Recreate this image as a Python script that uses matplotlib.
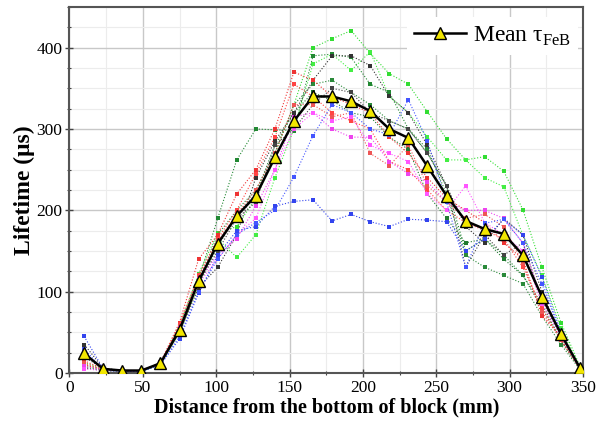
import matplotlib
matplotlib.use("Agg")
import matplotlib.pyplot as plt
from matplotlib.ticker import MultipleLocator

plt.rcParams['font.family'] = ['Liberation Serif', 'DejaVu Serif']
plt.rcParams['mathtext.fontset'] = 'custom'
plt.rcParams['mathtext.rm'] = 'Liberation Serif'
plt.rcParams['mathtext.bf'] = 'Liberation Serif:bold'

x = [10, 23, 36, 49, 62, 75, 88, 101, 114, 127, 140, 153, 166, 179, 192,
     205, 218, 231, 244, 257, 270, 283, 296, 309, 322, 335, 348]

mean_tau = [24, 5, 3, 3, 12, 53, 113, 159, 193, 218, 265, 310, 340, 340, 334,
            322, 300, 289, 254, 218, 187, 177, 171, 145, 94, 48, 6]

lime_a = [13, 4, 2, 2, 11, 58, 122, 172, 180, 215, 270, 330, 400, 411, 421,
          393, 368, 355, 321, 288, 262, 266, 248, 201, 130, 62, 8]
lime_b = [8, 3, 2, 2, 10, 50, 108, 165, 142, 170, 240, 300, 380, 392, 372,
          395, 340, 320, 290, 262, 262, 240, 229, 170, 120, 55, 6]
green_a = [10, 4, 2, 2, 12, 55, 115, 190, 262, 300, 299, 298, 390, 392, 388,
           355, 345, 300, 270, 230, 150, 165, 145, 120, 85, 40, 5]
green_b = [8, 3, 2, 2, 12, 52, 112, 170, 200, 225, 270, 330, 355, 360, 345,
           330, 310, 300, 275, 220, 145, 130, 120, 110, 70, 35, 4]
green_c = [6, 3, 2, 2, 11, 50, 110, 155, 195, 220, 280, 320, 345, 335, 320,
           315, 290, 275, 220, 190, 160, 165, 140, 120, 80, 40, 5]
black_a = [35, 6, 3, 3, 12, 50, 105, 130, 170, 240, 285, 320, 360, 390, 390,
           378, 340, 320, 280, 230, 180, 160, 190, 170, 100, 45, 5]
black_b = [20, 5, 3, 3, 12, 52, 110, 150, 190, 210, 280, 300, 330, 350, 345,
           320, 310, 300, 270, 230, 130, 170, 145, 160, 90, 45, 5]
red_a = [15, 5, 3, 3, 13, 62, 140, 170, 220, 250, 300, 370, 360, 340, 330,
         320, 290, 270, 240, 215, 200, 185, 160, 140, 70, 45, 5]
red_b = [10, 4, 3, 3, 12, 60, 120, 165, 200, 245, 290, 355, 340, 320, 310,
         300, 260, 250, 225, 200, 185, 175, 165, 130, 80, 40, 5]
red_c = [12, 4, 3, 3, 12, 58, 118, 162, 195, 225, 270, 330, 330, 315, 320,
         270, 255, 280, 230, 210, 190, 195, 180, 135, 75, 42, 5]
magenta_a = [8, 4, 3, 3, 12, 55, 115, 145, 165, 205, 250, 315, 320, 300, 290,
             290, 260, 245, 235, 210, 200, 200, 190, 160, 90, 50, 5]
magenta_b = [5, 3, 2, 2, 11, 52, 110, 140, 170, 190, 250, 300, 320, 310, 315,
             280, 270, 260, 220, 200, 230, 185, 170, 150, 85, 45, 5]
blue_a = [45, 5, 3, 2, 10, 42, 98, 145, 175, 180, 205, 211, 213, 187, 195,
          186, 180, 189, 188, 186, 150, 165, 189, 170, 118, 50, 5]
blue_b = [30, 3, 2, 2, 10, 45, 100, 140, 170, 185, 200, 241, 292, 330, 320,
          300, 293, 336, 285, 210, 130, 184, 189, 160, 110, 48, 5]

series = [
    (lime_a, '#33dd33'), (lime_b, '#44ee44'),
    (green_a, '#228833'), (green_b, '#2a8a3a'), (green_c, '#1f7a2f'),
    (black_a, '#333333'), (black_b, '#444444'),
    (red_a, '#ee3333'), (red_b, '#ff4444'), (red_c, '#ee5555'),
    (magenta_a, '#ee44ee'), (magenta_b, '#ff55ff'),
    (blue_a, '#3344ee'), (blue_b, '#4455ff'),
]

fig = plt.figure(figsize=(5.97, 4.30), dpi=100)
ax = fig.add_axes([0.1164, 0.1326, 0.8601, 0.8511])

for vals, c in series:
    ax.plot(x, vals, linestyle=':', color=c, linewidth=0.8,
            marker='s', markersize=2.2, markeredgewidth=0, zorder=2)

ax.plot(x, mean_tau, '-', color='black', linewidth=1.8, marker='^',
        markersize=8.5, markerfacecolor='#f2e600', markeredgecolor='black',
        markeredgewidth=1.0, zorder=5, label='Mean τ$_{\\mathrm{FeB}}$')

ax.set_xlim(0, 350)
ax.set_ylim(0, 450)
ax.xaxis.set_major_locator(MultipleLocator(50))
ax.xaxis.set_minor_locator(MultipleLocator(25))
ax.yaxis.set_major_locator(MultipleLocator(100))
ax.yaxis.set_minor_locator(MultipleLocator(25))

ax.grid(which='major', color='#c8c8c8', linewidth=1.0, zorder=0)
ax.grid(which='minor', color='#ececec', linewidth=0.8, zorder=0)
ax.set_axisbelow(True)

ax.tick_params(which='major', direction='inout', length=6, width=1,
               labelsize=12.5, color='#444444', pad=2)
ax.tick_params(which='minor', direction='inout', length=3, width=0.8,
               color='#444444')
for s in ax.spines.values():
    s.set_color('#555555')
    s.set_linewidth(1.5)

ax.set_xlabel('Distance from the bottom of block (mm)', fontsize=14.5,
              fontweight='bold', labelpad=1)
ax.set_ylabel('Lifetime (μs)', fontsize=17, fontweight='bold', labelpad=1)

leg = ax.legend(loc='upper right', bbox_to_anchor=(1.0, 0.985), fontsize=17,
                frameon=True, handlelength=2.2, borderaxespad=0.2,
                handletextpad=0.3, borderpad=0.3)
leg.get_frame().set_edgecolor('none')
leg.get_frame().set_facecolor('white')
leg.get_frame().set_alpha(1.0)

fig.savefig('out.png', dpi=100)
